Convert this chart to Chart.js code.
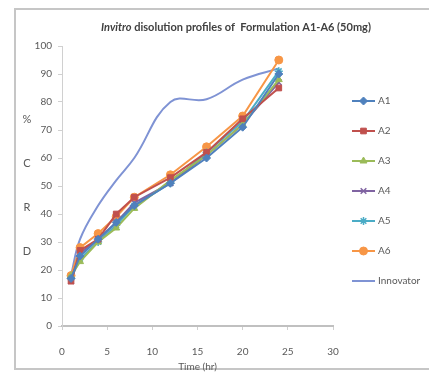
<!DOCTYPE html>
<html>
<head>
<meta charset="utf-8">
<script src="https://cdn.jsdelivr.net/npm/chart.js@4/dist/chart.umd.min.js"></script>
<style>
  html, body { margin: 0; padding: 0; background: #fff; }
  #wrap { position: relative; width: 429px; height: 377px; overflow: hidden; }
  #frame { position: absolute; left: 14px; top: 8px; width: 440px; height: 362px; border: 2px solid #c6c6c6; box-sizing: border-box; }
  #grafiek { position: absolute; left: 0; top: 0; }
</style>
</head>
<body>
<div id="wrap">
  <div id="frame"></div>
  <canvas id="grafiek" width="429" height="377"></canvas>
</div>
<script>
// Sampling times (hr)
const tijden = [1, 2, 4, 6, 8, 12, 16, 20, 24];

// % cumulative release per formulation
const a1 = [17, 25, 31, 37, 43, 51, 60, 71, 90];
const a2 = [16, 27, 31, 40, 46, 53, 62, 74, 85];
const a3 = [18, 23, 30, 35, 42, 52, 61, 72, 88];
const a4 = [16, 26, 31, 37, 44, 51, 61, 72, 87];
const a5 = [17, 24, 30, 36, 43, 51, 62, 73, 91];
const a6 = [18, 28, 33, 39, 46, 54, 64, 75, 95];
const innovator = [18, 31, 43, 52, 60, 80, 81, 88, 92];

const namen = ['A1', 'A2', 'A3', 'A4', 'A5', 'A6', 'Innovator'];
const reeksen = [a1, a2, a3, a4, a5, a6, innovator];
const kleuren = ['#4F81BD', '#C0504D', '#9BBB59', '#8064A2', '#4BACC6', '#F79646', '#7F93D4'];
const markers = ['rectRot', 'rect', 'triangle', 'crossRot', 'star', 'circle', false];

const xTicks = [0, 5, 10, 15, 20, 25, 30];
const yTicks = [0, 10, 20, 30, 40, 50, 60, 70, 80, 90, 100];

const datasets = reeksen.map((r, i) => ({
  label: namen[i],
  data: r.map((v, j) => ({ x: tijden[j], y: v })),
  borderColor: kleuren[i],
  backgroundColor: kleuren[i],
  borderWidth: 2,
  pointStyle: markers[i],
  pointRadius: markers[i] ? 4 : 0,
  pointBorderWidth: markers[i] === 'crossRot' || markers[i] === 'star' ? 1.5 : 1,
  tension: i === 6 ? 0.4 : 0
}));

const tekstKleur = '#595959';
const font = 'Lato, "Liberation Sans", sans-serif';

// title, the stacked y label and the legend are drawn by hand
const extras = {
  id: 'extras',
  afterDraw(chart) {
    const ctx = chart.ctx;
    const area = chart.chartArea;
    ctx.save();

    // title with italic first word
    ctx.fillStyle = '#404040';
    ctx.textBaseline = 'middle';
    const deel1 = 'Invitro';
    const deel2 = ' disolution profiles of  Formulation A1-A6 (50mg)';
    ctx.font = 'italic bold 11px ' + font;
    const w1 = ctx.measureText(deel1).width;
    ctx.font = 'bold 11px ' + font;
    const w2 = ctx.measureText(deel2).width;
    let x = 236 - (w1 + w2) / 2;
    ctx.textAlign = 'left';
    ctx.font = 'italic bold 11px ' + font;
    ctx.fillText(deel1, x, 27);
    ctx.font = 'bold 11px ' + font;
    ctx.fillText(deel2, x + w1, 27);

    // y axis label, letters stacked
    ctx.font = '11px ' + font;
    ctx.fillStyle = tekstKleur;
    ctx.textAlign = 'center';
    ['%', 'C', 'R', 'D'].forEach((c, i) => {
      ctx.fillText(c, 27, 119 + i * 44);
    });

    // legend: line with marker, then name
    const midden = (area.top + area.bottom) / 2;
    const stap = 30;
    const start = midden - stap * (namen.length - 1) / 2 + 5;
    ctx.textAlign = 'left';
    ctx.font = '10px ' + font;
    datasets.forEach((ds, i) => {
      const y = start + i * stap;
      ctx.strokeStyle = ds.borderColor;
      ctx.fillStyle = ds.backgroundColor;
      ctx.lineWidth = 2;
      ctx.beginPath();
      ctx.moveTo(352, y);
      ctx.lineTo(375, y);
      ctx.stroke();
      if (ds.pointStyle) {
        ctx.lineWidth = ds.pointBorderWidth;
        Chart.helpers.drawPoint(ctx, {
          pointStyle: ds.pointStyle, radius: 4, rotation: 0, borderWidth: ds.pointBorderWidth
        }, 363.5, y);
      }
      ctx.fillStyle = tekstKleur;
      ctx.fillText(ds.label, 378, y);
    });

    ctx.restore();
  }
};

new Chart(document.getElementById('grafiek').getContext('2d'), {
  type: 'line',
  data: { datasets: datasets },
  options: {
    responsive: false,
    animation: false,
    layout: { padding: { top: 46, right: 96, left: 0, bottom: 0 } },
    plugins: {
      legend: { display: false },
      tooltip: { enabled: false }
    },
    scales: {
      x: {
        type: 'linear',
        min: 0,
        max: 30,
        afterBuildTicks: s => { s.ticks = xTicks.map(v => ({ value: v })); },
        afterFit: s => { s.height = 51; },
        border: { color: '#c0c0c0', width: 2 },
        grid: { drawOnChartArea: false, drawTicks: true, tickLength: 4, color: '#d0d0d0' },
        ticks: { color: tekstKleur, font: { family: font, size: 10 }, padding: 16, maxRotation: 0 },
        title: { display: true, text: 'Time (hr)', color: tekstKleur, font: { family: font, size: 10 }, padding: { top: 0, bottom: 4 } }
      },
      y: {
        min: 0,
        max: 100,
        afterBuildTicks: s => { s.ticks = yTicks.map(v => ({ value: v })); },
        afterFit: s => { s.width = 62; },
        border: { color: '#d0d0d0', width: 1 },
        grid: { drawOnChartArea: false, drawTicks: true, tickLength: 4, color: '#d0d0d0' },
        ticks: { color: tekstKleur, font: { family: font, size: 10 }, padding: 6 }
      }
    }
  },
  plugins: [extras]
});
</script>
</body>
</html>
